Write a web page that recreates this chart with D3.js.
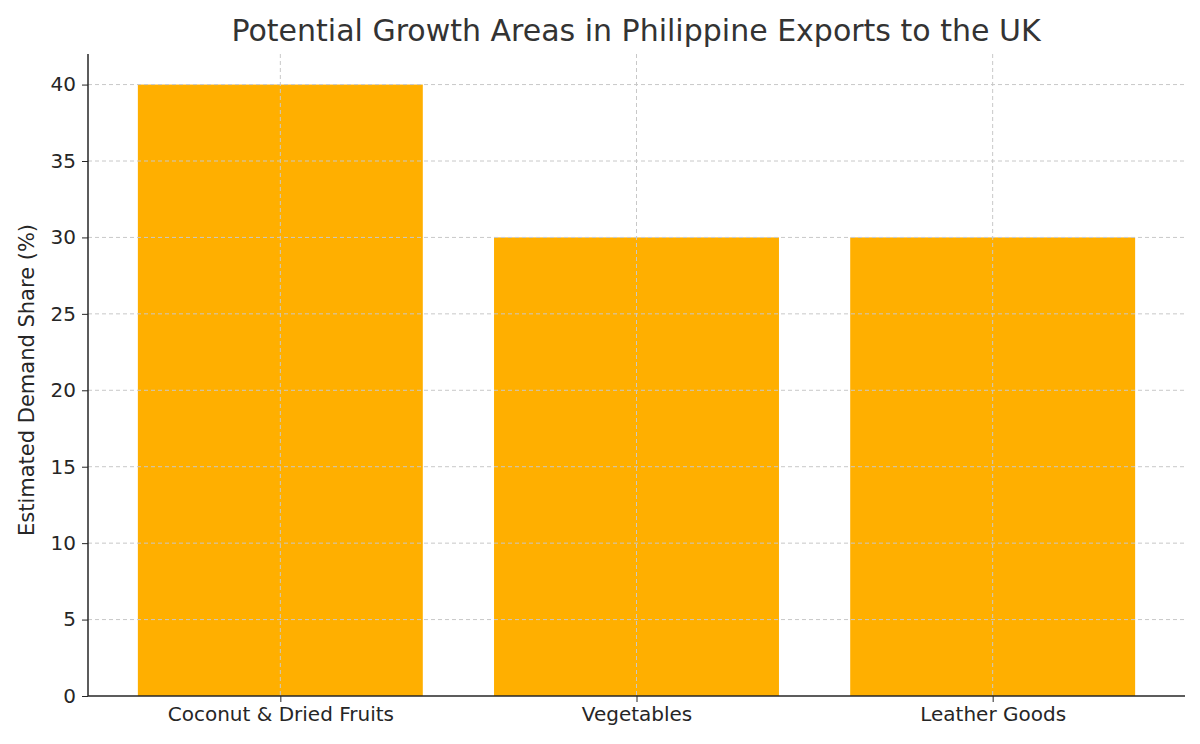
<!DOCTYPE html>
<html><head><meta charset="utf-8">
<script src="https://cdn.jsdelivr.net/npm/d3@7"></script>
<style>body{margin:0;background:#fff;font-family:"DejaVu Sans",sans-serif;}</style>
</head><body><svg id="c" width="1200" height="744"></svg>
<script>
const categories = ["Coconut & Dried Fruits", "Vegetables", "Leather Goods"];
const values = [40, 30, 30];
const yTicks = [0, 5, 10, 15, 20, 25, 30, 35, 40];
const title = "Potential Growth Areas in Philippine Exports to the UK";
const yLabel = "Estimated Demand Share (%)";

const svg = d3.select("#c");
const L = 88, R = 1185, T = 54, B = 696;
const x = d3.scaleLinear().domain([-0.54, categories.length - 1 + 0.54]).range([L, R]);
const y = d3.scaleLinear().domain([0, 42]).range([B, T]);
const bw = x(0.4) - x(-0.4);

svg.selectAll("rect.bar").data(values).enter().append("rect")
  .attr("x", (d, i) => x(i) - bw / 2).attr("width", bw)
  .attr("y", d => y(d)).attr("height", d => B - y(d)).attr("fill", "#FFAF00");

const grid = svg.append("g").attr("stroke", "#c8c8c8").attr("stroke-dasharray", "4,3").attr("stroke-width", 1);
yTicks.forEach(t => { if (t > 0) grid.append("line").attr("x1", L).attr("x2", R).attr("y1", y(t)).attr("y2", y(t)); });
categories.forEach((c, i) => grid.append("line").attr("x1", x(i)).attr("x2", x(i)).attr("y1", T).attr("y2", B));

const yAxis = d3.axisLeft(y).tickValues(yTicks).tickSize(6).tickPadding(6);
const gy = svg.append("g").attr("transform", `translate(${L},0)`).call(yAxis);
const xAxis = d3.axisBottom(x).tickValues(categories.map((c, i) => i)).tickFormat(i => categories[i]).tickSize(6).tickPadding(5);
const gx = svg.append("g").attr("transform", `translate(0,${B})`).call(xAxis);
[gx, gy].forEach(g => {
  g.selectAll("text").attr("font-family", "DejaVu Sans").attr("font-size", 20).attr("fill", "#262626");
  g.selectAll("line").attr("stroke", "#262626");
  g.select(".domain").attr("stroke", "#262626").attr("stroke-width", 1.5);
});
gx.select(".domain").attr("d", `M${L},0H${R}`);
gy.select(".domain").attr("d", `M0,${B}V${T}`);

svg.append("text").attr("x", 636).attr("y", 41).attr("text-anchor", "middle")
  .attr("font-size", 30).attr("fill", "#333").text(title);
svg.append("text").attr("transform", `translate(34,${(T + B) / 2 + 5}) rotate(-90)`)
  .attr("text-anchor", "middle").attr("font-size", 21).attr("fill", "#262626").text(yLabel);
</script></body></html>
